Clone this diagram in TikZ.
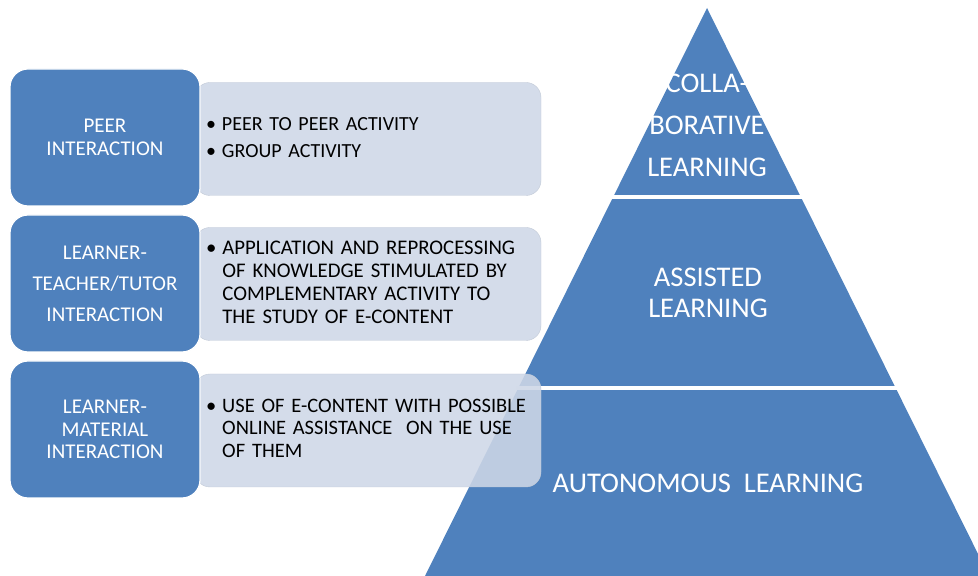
\documentclass[tikz,border=0pt]{standalone}
\usepackage{fontspec}
\setmainfont{Carlito}
\usetikzlibrary{calc}
\definecolor{pyrblue}{RGB}{79,129,189}
\definecolor{paleblue}{RGB}{206,215,231}

\begin{document}
\begin{tikzpicture}[x=1pt,y=1pt,
  headbox/.style={fill=pyrblue, draw=white, line width=1.2pt, rounded corners=18pt,
    minimum width=190, minimum height=137, text=white, align=center},
  listbox/.style={fill=paleblue, fill opacity=.88, text opacity=1, draw=paleblue!85!gray,
    rounded corners=15pt, minimum width=346, minimum height=113, text width=324,
    inner xsep=11, align=left},
  pyrtext/.style={text=white, align=center}]
\useasboundingbox (0,0) rectangle (978,576);
% pyramid
\coordinate (apex) at (707,568);
\coordinate (bl) at (425,0);
\coordinate (br) at (989,0);
\begin{scope}
\clip (0,0) rectangle (978,576);
\fill[pyrblue] (apex)--(bl)--(br)--cycle;
\foreach \f in {0.333,0.669}
 \draw[white, line width=3.5pt] ($(apex)!\f!(bl)+(-2,0)$) -- ($(apex)!\f!(br)+(2,0)$);
\end{scope}
\node[pyrtext, font=\fontsize{28.5}{42}\selectfont] (collab) at (707,451) {COLLA-\\BORATIVE\\LEARNING};
\node[pyrtext, font=\fontsize{28.5}{31}\selectfont] (assist) at (708,283.5) {ASSISTED\\LEARNING};
\node[pyrtext, font=\fontsize{28.5}{34}\selectfont] (autonom) at (708,93) {AUTONOMOUS\ \ LEARNING};
% activity boxes
\node[listbox, font=\fontsize{20}{27}\selectfont] (peeract) at (368,437) {%
 \begin{tabular}{@{}l@{\hspace{6pt}}l@{}}
 \textbullet & PEER TO PEER ACTIVITY\\
 \textbullet & GROUP ACTIVITY
 \end{tabular}};
\node[listbox, font=\fontsize{20.8}{23}\selectfont] (tutoract) at (368,292) {%
 \begin{tabular}{@{}l@{\hspace{6pt}}l@{}}
 \textbullet & APPLICATION AND REPROCESSING\\
  & OF KNOWLEDGE STIMULATED BY\\
  & COMPLEMENTARY ACTIVITY TO\\
  & THE STUDY OF E-CONTENT
 \end{tabular}};
\node[listbox, font=\fontsize{20.5}{22.5}\selectfont] (materact) at (368,145.5) {%
 \begin{tabular}{@{}l@{\hspace{6pt}}l@{}}
 \textbullet & USE OF E-CONTENT WITH POSSIBLE\\
  & ONLINE ASSISTANCE\ \ ON THE USE\\
  & OF THEM
 \end{tabular}};
% interaction boxes
\node[headbox, font=\fontsize{21}{23}\selectfont] (peer) at (105,438.5) {PEER\\INTERACTION};
\node[headbox, font=\fontsize{21}{31}\selectfont] (tutor) at (105,292.5) {LEARNER-\\TEACHER/TUTOR\\INTERACTION};
\node[headbox, font=\fontsize{21}{22.5}\selectfont] (mater) at (105,146.5) {LEARNER-\\MATERIAL\\INTERACTION};
\end{tikzpicture}
\end{document}
